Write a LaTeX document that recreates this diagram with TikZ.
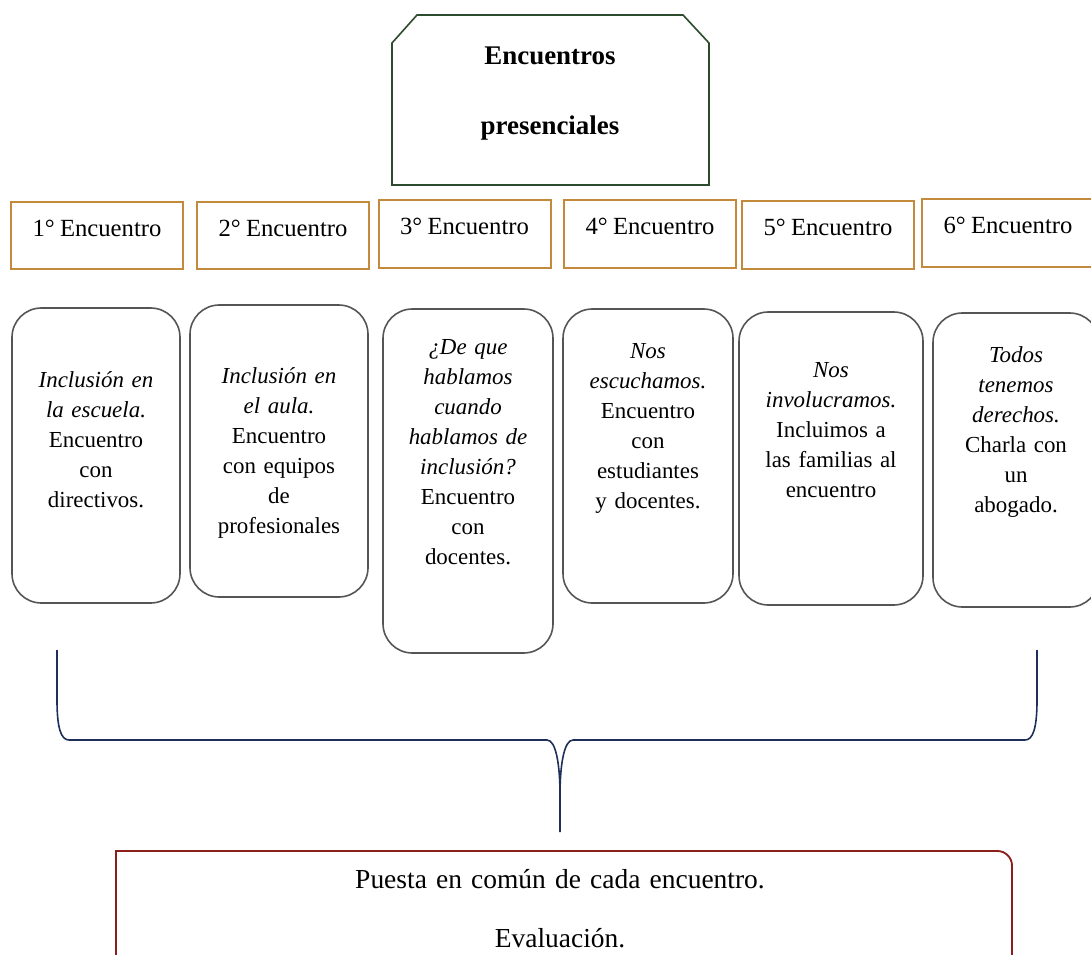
\documentclass[tikz,border=0pt]{standalone}
\usepackage{fontspec}
\setmainfont{Liberation Serif}[WordSpace=0.85]
\usepackage{tikz}
\usetikzlibrary{positioning}

\definecolor{verde}{RGB}{45,75,45}
\definecolor{ocre}{RGB}{194,138,58}
\definecolor{gris}{RGB}{85,85,85}
\definecolor{azul}{RGB}{30,48,90}
\definecolor{granate}{RGB}{138,32,28}

\begin{document}
\begin{tikzpicture}[x=0.75pt,y=-0.75pt,
	encabezado/.style={draw=ocre,line width=1.5pt,minimum width=129pt,minimum height=50.5pt,inner sep=0pt,text height=12pt,text depth=10.5pt,font=\fontsize{18.5pt}{22pt}\selectfont},
	caja/.style={draw=gris,line width=1.2pt,rounded corners=22pt,inner sep=0pt},
	cuerpo/.style={anchor=base,text width=140pt,align=center,inner sep=0pt,font=\fontsize{17.2pt}{22.5pt}\selectfont},
	titulo/.style={anchor=base,inner sep=0pt,font=\bfseries\fontsize{20.2pt}{24pt}\selectfont},
	cierre/.style={anchor=base,text width=400pt,align=center,inner sep=0pt,font=\fontsize{20.6pt}{44.25pt}\selectfont}]
				\useasboundingbox (0,0) rectangle (1091,955);
				\clip (0,0) rectangle (1091,955);

				%Title
				\draw[verde,line width=1.2pt] (392,43) -- (417,15) -- (683,15) -- (709,43) -- (709,185) -- (392,185) -- cycle;
				\node[titulo] (tit1) at (550,65) {Encuentros};
				\node[titulo] (tit2) at (550,135) {presenciales};

				%Nodes
				\node[encabezado] (h1) at (97,235.5) {1° Encuentro};
				\node[encabezado] (h2) at (283,235.5) {2° Encuentro};
				\node[encabezado] (h3) at (464.5,234) {3° Encuentro};
				\node[encabezado] (h4) at (650,234) {4° Encuentro};
				\node[encabezado] (h5) at (828,235) {5° Encuentro};
				\node[encabezado] (h6) at (1008,233) {6° Encuentro};

				\node[caja,minimum width=126pt,minimum height=221.25pt] (c1) at (96,455.5) {};
				\node[caja,minimum width=133.5pt,minimum height=219pt] (c2) at (279,451) {};
				\node[caja,minimum width=127.5pt,minimum height=258pt] (c3) at (468,481) {};
				\node[caja,minimum width=127.5pt,minimum height=220.5pt] (c4) at (648,456) {};
				\node[caja,minimum width=138pt,minimum height=219.75pt] (c5) at (831,458.5) {};
				\node[caja,minimum width=124.5pt,minimum height=220.5pt] (c6) at (1016,460) {};

				\node[cuerpo] (t1) at (96,387) {\textit{Inclusión en}\\\textit{la escuela.}\\Encuentro\\con\\directivos.};
				\node[cuerpo] (t2) at (279,383) {\textit{Inclusión en}\\\textit{el aula.}\\Encuentro\\con equipos\\de\\profesionales};
				\node[cuerpo] (t3) at (468,354) {\textit{¿De que}\\\textit{hablamos}\\\textit{cuando}\\\textit{hablamos de}\\\textit{inclusión?}\\Encuentro\\con\\docentes.};
				\node[cuerpo] (t4) at (648,358) {\textit{Nos}\\\textit{escuchamos.}\\Encuentro\\con\\estudiantes\\y docentes.};
				\node[cuerpo] (t5) at (831,377) {\textit{Nos}\\\textit{involucramos.}\\Incluimos a\\las familias al\\encuentro};
				\node[cuerpo] (t6) at (1016,362) {\textit{Todos}\\\textit{tenemos}\\\textit{derechos.}\\Charla con\\un\\abogado.};

				%Brace
				\coordinate (b0) at (57,650);
				\coordinate (b1) at (57,700);
				\coordinate (b2) at (69,740);
				\coordinate (b3) at (547,740);
				\coordinate (b4) at (560,795);
				\coordinate (b5) at (560,832);
				\coordinate (b6) at (573,740);
				\coordinate (b7) at (1025,740);
				\coordinate (b8) at (1037,700);
				\coordinate (b9) at (1037,650);

				%Lines
				\draw[azul,line width=1.2pt] (b0) -- (b1) .. controls (57,728) and (61,740) .. (b2) -- (b3)
					.. controls (556,740) and (560,765) .. (b4) -- (b5) -- (b4)
					.. controls (560,765) and (564,740) .. (b6) -- (b7)
					.. controls (1033,740) and (1037,728) .. (b8) -- (b9);

				%Result
				\draw[granate,line width=1.4pt] (116,990) |- (900,851) [rounded corners=11pt] -- (1012,851) -- (1012,990);
				\node[cierre] (fin) at (560,888) {Puesta en común de cada encuentro.\\Evaluación.};

\end{tikzpicture}
\end{document}
